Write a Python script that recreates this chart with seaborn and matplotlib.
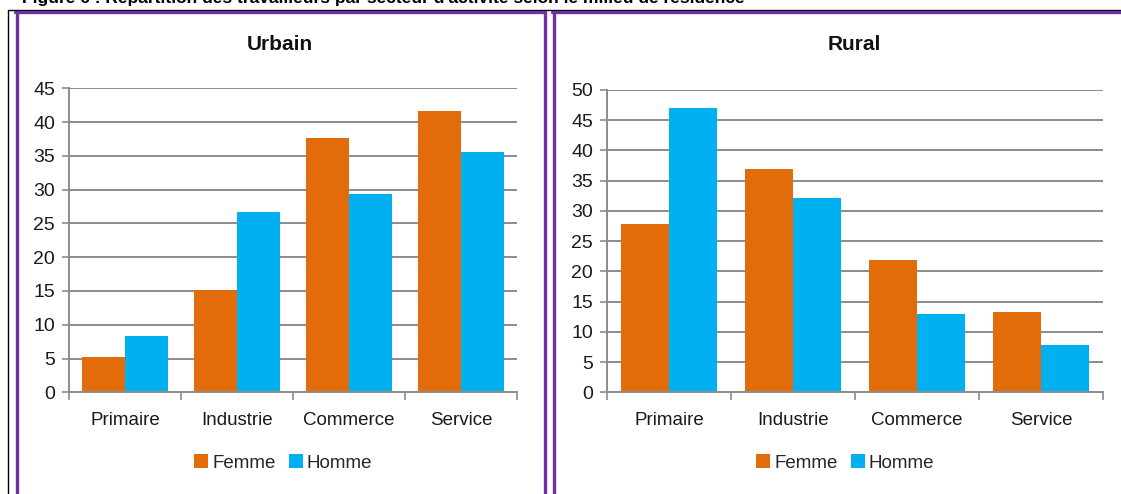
import matplotlib
matplotlib.use("Agg")
import matplotlib.pyplot as plt
import seaborn as sns
import pandas as pd
from matplotlib.lines import Line2D

# ---- data ----
secteurs = ["Primaire", "Industrie", "Commerce", "Service"]
sexes = ["Femme", "Homme"]
urbain_femme = [5.2, 15.2, 37.7, 41.7]
urbain_homme = [8.4, 26.7, 29.3, 35.5]
rural_femme = [27.9, 36.9, 21.9, 13.2]
rural_homme = [47.0, 32.2, 12.9, 7.9]
urbain_yticks = [0, 5, 10, 15, 20, 25, 30, 35, 40, 45]
rural_yticks = [0, 5, 10, 15, 20, 25, 30, 35, 40, 45, 50]
fig_title = "Figure 6 : Répartition des travailleurs par secteur d'activité selon le milieu de résidence"

ORANGE = "#E36C0A"
BLUE = "#00B0F0"
GRID = "#8C8C8C"
PURPLE = "#7030A0"

sns.set_theme(style="white")
plt.rcParams["font.family"] = ["Liberation Sans", "DejaVu Sans"]

W, H = 1121, 494
fig = plt.figure(figsize=(W / 100, H / 100), dpi=100)


def fx(x):
    return x / W


def fy(y):
    return 1 - y / H


def make_df(f, h):
    rows = []
    for s, a, b in zip(secteurs, f, h):
        rows.append({"Secteur": s, "Sexe": sexes[0], "Valeur": a})
        rows.append({"Secteur": s, "Sexe": sexes[1], "Valeur": b})
    return pd.DataFrame(rows)


panels = [
    dict(df=make_df(urbain_femme, urbain_homme), ticks=urbain_yticks, title="Urbain",
         box=(69, 517, 88.3, 392.3), title_x=280, leg_x=283),
    dict(df=make_df(rural_femme, rural_homme), ticks=rural_yticks, title="Rural",
         box=(607, 1103, 90, 392.3), title_x=854, leg_x=845),
]

for p in panels:
    x0, x1, yt, yb = p["box"]
    ax = fig.add_axes([fx(x0), fy(yb), (x1 - x0) / W, (yb - yt) / H])
    sns.barplot(data=p["df"], x="Secteur", y="Valeur", hue="Sexe",
                palette=[ORANGE, BLUE], width=0.77, saturation=1,
                edgecolor="none", linewidth=0, ax=ax, errorbar=None)
    ax.set_xlim(-0.5, len(secteurs) - 0.5)
    ax.set_ylim(p["ticks"][0], p["ticks"][-1])
    ax.set_yticks(p["ticks"])
    ax.set_yticklabels([str(t) for t in p["ticks"]], fontsize=14, color="#1a1a1a")
    ax.set_xticks(range(len(secteurs)))
    ax.set_xticklabels(secteurs, fontsize=13.5, color="#1a1a1a")
    ax.set_xticks([i - 0.5 for i in range(len(secteurs) + 1)], minor=True)
    ax.tick_params(axis="x", which="major", length=0, pad=14)
    ax.tick_params(axis="x", which="minor", length=6, width=1.2, color=GRID, direction="out", bottom=True)
    ax.tick_params(axis="y", which="major", length=5, width=1.2, color=GRID, direction="out", left=True, pad=5)
    ax.set_xlabel("")
    ax.set_ylabel("")
    ax.yaxis.grid(True, color=GRID, linewidth=1.4)
    ax.set_axisbelow(True)
    for s in ["top", "right"]:
        ax.spines[s].set_visible(False)
    for s in ["left", "bottom"]:
        ax.spines[s].set_color(GRID)
        ax.spines[s].set_linewidth(1.4)
    sns.move_legend(ax, "center", bbox_to_anchor=(fx(p["leg_x"]), fy(463)),
                    bbox_transform=fig.transFigure, ncol=2, frameon=False, title=None,
                    fontsize=13.5, handlelength=0.75, handleheight=0.75,
                    handletextpad=0.2, columnspacing=0.7)
    fig.text(fx(p["title_x"]), fy(45), p["title"], ha="center", va="center",
             fontsize=15, fontweight="bold", color="#111111")

# frame lines (black outer, purple panel boxes)
lines = [
    ((7.5, 7.5), (10, 494), "black", 1.0),
    ((7.5, 1121), (10, 10), "black", 1.0),
    ((16.5, 16.5), (12.5, 494), PURPLE, 2.4),
    ((15, 545), (12.5, 12.5), PURPLE, 2.4),
    ((544.5, 544.5), (12.5, 494), PURPLE, 2.4),
    ((553.5, 553.5), (12.5, 494), PURPLE, 2.4),
    ((552, 1121), (12.5, 12.5), PURPLE, 2.4),
]
for xs, ys, c, lw in lines:
    fig.add_artist(Line2D([fx(xs[0]), fx(xs[1])], [fy(ys[0]), fy(ys[1])],
                          transform=fig.transFigure, color=c, linewidth=lw))

fig.text(fx(22), fy(3), fig_title, ha="left", va="baseline",
         fontsize=12.5, fontweight="bold", color="black")

fig.savefig("out.png", dpi=100)
